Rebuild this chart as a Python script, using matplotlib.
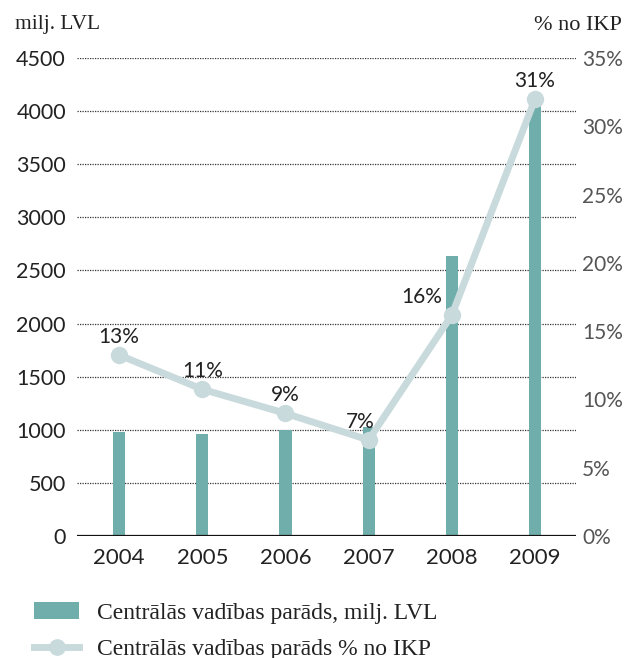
import matplotlib
matplotlib.use("Agg")
import matplotlib.pyplot as plt
from matplotlib.lines import Line2D
from matplotlib.patches import Patch

years = ["2004", "2005", "2006", "2007", "2008", "2009"]
debt_lvl = [982, 960, 998, 1026, 2636, 4050]
debt_pct = [13.25, 10.74, 8.98, 7.03, 16.18, 32.0]
pct_labels = ["13%", "11%", "9%", "7%", "16%", "31%"]
left_ticks = [0, 500, 1000, 1500, 2000, 2500, 3000, 3500, 4000, 4500]
right_ticks = [0, 5, 10, 15, 20, 25, 30, 35]

BAR = "#70aeac"
LINE = "#c9dadd"
NUM = "Lato"
SERIF = "Liberation Serif"

fig = plt.figure(figsize=(6.26, 6.58), dpi=100)
ax = fig.add_axes([77/626, 1-536/658, 499/626, 478/658])
x = list(range(len(years)))

ax.bar(x, debt_lvl, width=0.145, color=BAR, zorder=2)
ax.set_xlim(-0.507, 5.493)
ax.set_ylim(0, 4500)
ax.set_yticks(left_ticks)
ax.set_yticklabels([str(t) for t in left_ticks], fontfamily=NUM, fontsize=15.5, color="#222222")
ax.set_xticks(x)
ax.set_xticklabels(years, fontfamily=NUM, fontsize=16, color="#222222")
ax.tick_params(axis="both", length=0)
ax.tick_params(axis="y", pad=8)
ax.tick_params(axis="x", pad=9)
for t in left_ticks[1:]:
    ax.axhline(t, color="#333333", lw=0.9, ls=(0, (1, 1)), zorder=1)
ax.axhline(0, color="#111111", lw=1.6, zorder=3)
for s in ax.spines.values():
    s.set_visible(False)

ax2 = ax.twinx()
ax2.set_ylim(0, 35)
ax2.plot(x, debt_pct, color=LINE, lw=5, marker="o", markersize=11.5,
         markerfacecolor=LINE, markeredgecolor=LINE, zorder=4, solid_capstyle="round")
ax2.set_yticks(right_ticks)
ax2.set_yticklabels([f"{t}%" for t in right_ticks], fontfamily=NUM, fontsize=15, color="#555555")
ax2.tick_params(axis="y", length=0, pad=4.3)
for s in ax2.spines.values():
    s.set_visible(False)
offsets = [(0, 6), (0, 6), (0, 6), (-6, 6), (-22, 6), (0, 6)]
for xi, v, lab, off in zip(x, debt_pct, pct_labels, offsets):
    ax2.annotate(lab, (xi, v), xytext=off, textcoords="offset points",
                 ha="center", va="bottom", fontfamily=NUM, fontsize=15, color="#222222")

fig.text(15/626, 1-25/658, "milj. LVL", fontfamily=SERIF, fontsize=15.5, color="#222222",
         ha="left", va="center")
fig.text(622/626, 1-25/658, "% no IKP", fontfamily=SERIF, fontsize=16, color="#222222",
         ha="right", va="center")

handles = [Patch(facecolor=BAR, edgecolor="none"),
           Line2D([0], [0], color=LINE, lw=5, marker="o", markersize=11,
                  markerfacecolor=LINE, markeredgecolor=LINE)]
labels = ["Centrālās vadības parāds, milj. LVL", "Centrālās vadības parāds % no IKP"]
fig.legend(handles, labels, loc="upper left", bbox_to_anchor=(13/626, 1-581/658),
           frameon=False, prop={"family": SERIF, "size": 17}, handlelength=1.9,
           handleheight=0.7, handletextpad=0.76, labelspacing=0.63, labelcolor="#222222")

fig.savefig("out.png", dpi=100)
